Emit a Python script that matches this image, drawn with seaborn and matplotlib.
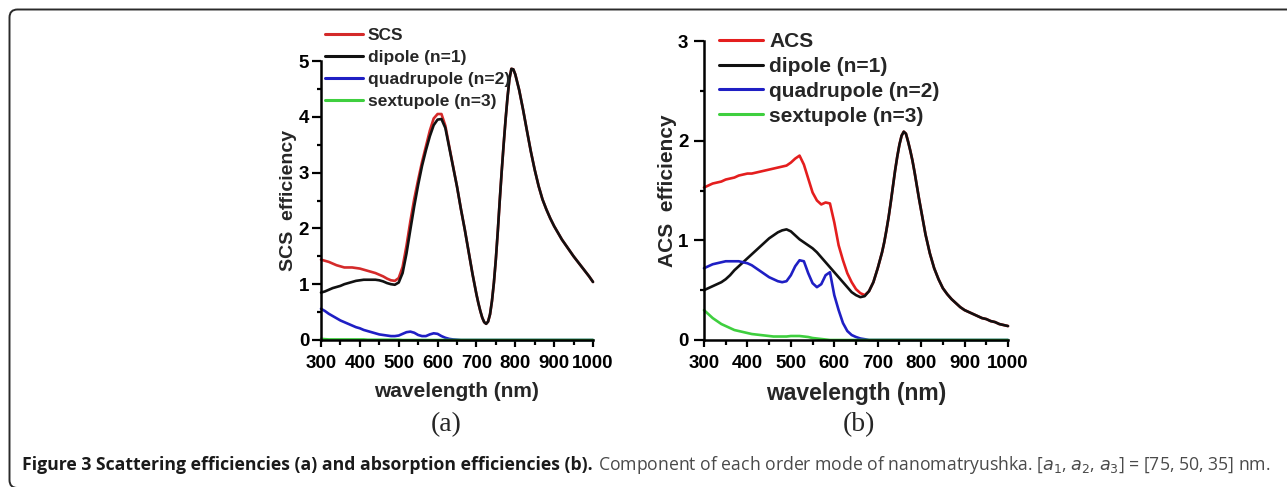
import numpy as np
import pandas as pd
import matplotlib
matplotlib.use("Agg")
import matplotlib.pyplot as plt
import seaborn as sns
from matplotlib.patches import FancyBboxPatch
from matplotlib.transforms import IdentityTransform
from matplotlib.ticker import MultipleLocator
from matplotlib.lines import Line2D

# ---------------- data ----------------
# sampling grid: 10 nm steps, 5 nm steps around the sharp 700-800 nm features
wavelength = np.concatenate([np.arange(300, 701, 10),
                             np.arange(705, 801, 5),
                             np.arange(810, 1001, 10)])

# panel (a): scattering efficiencies
scs_dipole = [0.85, 0.87, 0.90, 0.93, 0.95, 0.97, 1.00, 1.02, 1.04, 1.06,   # 300-390
              1.07, 1.08, 1.08, 1.08, 1.08, 1.07, 1.05, 1.02, 1.00, 0.99,   # 400-490
              1.03, 1.20, 1.55, 1.98, 2.40, 2.78, 3.12, 3.40, 3.65, 3.85,   # 500-590
              3.95, 3.96, 3.80, 3.45, 3.10, 2.75, 2.35, 1.98, 1.58, 1.18,   # 600-690
              0.82,                                                         # 700
              0.66, 0.52, 0.40, 0.32, 0.29, 0.33, 0.46, 0.70, 1.03, 1.45,   # 705-750
              1.95, 2.50, 3.02, 3.50, 3.95, 4.35, 4.68, 4.86, 4.85, 4.76,   # 755-800
              4.48, 4.13, 3.75, 3.38, 3.05, 2.76, 2.52, 2.34, 2.18, 2.04,   # 810-900
              1.92, 1.80, 1.70, 1.60, 1.50, 1.41, 1.32, 1.23, 1.14, 1.04]   # 910-1000
scs_total_head = [1.44, 1.42, 1.40, 1.37, 1.34, 1.32, 1.30, 1.30, 1.30, 1.29,
                  1.28, 1.26, 1.24, 1.22, 1.20, 1.17, 1.14, 1.10, 1.07, 1.06,
                  1.11, 1.31, 1.69, 2.13, 2.53, 2.87, 3.19, 3.47, 3.75, 3.97,
                  4.05, 4.05, 3.84, 3.47, 3.11, 2.75, 2.35, 1.98, 1.58, 1.18,
                  0.82]
scs_total = scs_total_head + scs_dipole[41:]   # SCS coincides with dipole above 670 nm
scs_quadrupole = [0.56, 0.52, 0.47, 0.43, 0.39, 0.35, 0.32, 0.29, 0.26, 0.23,
                  0.21, 0.18, 0.16, 0.14, 0.12, 0.10, 0.09, 0.08, 0.07, 0.07,
                  0.08, 0.11, 0.14, 0.15, 0.13, 0.09, 0.07, 0.07, 0.10, 0.12,
                  0.11, 0.07, 0.04, 0.02, 0.01, 0.005, 0.0, 0.0, 0.0, 0.0,
                  0.0] + [0.0] * 40
scs_sextupole = [0.02, 0.015, 0.01, 0.01, 0.01, 0.01, 0.01, 0.01, 0.01, 0.01,
                 0.01, 0.01, 0.005, 0.005, 0.005, 0.005, 0.005, 0.005, 0.005, 0.005,
                 0.005, 0.0, 0.0, 0.0, 0.0, 0.0, 0.0, 0.0, 0.0, 0.0,
                 0.0, 0.0, 0.0, 0.0, 0.0, 0.0, 0.0, 0.0, 0.0, 0.0,
                 0.0] + [0.0] * 40

# panel (b): absorption efficiencies
acs_dipole = [0.50, 0.52, 0.54, 0.56, 0.58, 0.61, 0.65, 0.70, 0.74, 0.78,   # 300-390
              0.82, 0.86, 0.90, 0.94, 0.98, 1.02, 1.05, 1.08, 1.10, 1.11,   # 400-490
              1.09, 1.05, 1.01, 0.98, 0.95, 0.92, 0.88, 0.83, 0.78, 0.73,   # 500-590
              0.68, 0.63, 0.58, 0.53, 0.48, 0.45, 0.43, 0.44, 0.49, 0.58,   # 600-690
              0.72,                                                         # 700
              0.80, 0.88, 0.98, 1.10, 1.23, 1.38, 1.54, 1.70, 1.84, 1.96,   # 705-750
              2.05, 2.09, 2.07, 1.99, 1.90, 1.80, 1.68, 1.55, 1.42, 1.30,   # 755-800
              1.06, 0.87, 0.72, 0.61, 0.52, 0.46, 0.41, 0.37, 0.33, 0.30,   # 810-900
              0.28, 0.26, 0.24, 0.22, 0.21, 0.19, 0.18, 0.16, 0.15, 0.14]   # 910-1000
acs_total_head = [1.53, 1.55, 1.57, 1.58, 1.59, 1.61, 1.62, 1.63, 1.65, 1.66,
                  1.67, 1.67, 1.68, 1.69, 1.70, 1.71, 1.72, 1.73, 1.74, 1.75,
                  1.78, 1.82, 1.85, 1.76, 1.62, 1.48, 1.40, 1.36, 1.38, 1.37,
                  1.18, 0.95, 0.80, 0.67, 0.58, 0.51, 0.47, 0.45, 0.49, 0.58,
                  0.72]
acs_total = acs_total_head + acs_dipole[41:]   # ACS coincides with dipole above 680 nm
acs_quadrupole = [0.72, 0.74, 0.76, 0.77, 0.78, 0.79, 0.79, 0.79, 0.79, 0.78,
                  0.77, 0.75, 0.72, 0.69, 0.66, 0.63, 0.61, 0.59, 0.58, 0.59,
                  0.65, 0.74, 0.80, 0.79, 0.67, 0.57, 0.53, 0.56, 0.65, 0.68,
                  0.45, 0.30, 0.17, 0.09, 0.05, 0.03, 0.015, 0.008, 0.0, 0.0,
                  0.0] + [0.0] * 40
acs_sextupole = [0.30, 0.26, 0.22, 0.19, 0.16, 0.14, 0.12, 0.10, 0.09, 0.08,
                 0.07, 0.06, 0.055, 0.05, 0.045, 0.04, 0.035, 0.035, 0.035, 0.035,
                 0.04, 0.04, 0.04, 0.035, 0.03, 0.02, 0.015, 0.01, 0.005, 0.0,
                 0.0, 0.0, 0.0, 0.0, 0.0, 0.0, 0.0, 0.0, 0.0, 0.0,
                 0.0] + [0.0] * 40

labels_a = ["SCS", "dipole (n=1)", "quadrupole (n=2)", "sextupole (n=3)"]
labels_b = ["ACS", "dipole (n=1)", "quadrupole (n=2)", "sextupole (n=3)"]
xticks = [300, 400, 500, 600, 700, 800, 900, 1000]
yticks_a = [0, 1, 2, 3, 4, 5]
yticks_b = [0, 1, 2, 3]

# ---------------- styling ----------------
sns.set_theme(style="white")
plt.rcParams['font.family'] = ['Liberation Sans', 'DejaVu Sans']
plt.rcParams['mathtext.fontset'] = 'dejavusans'

RED_A = "#d42a2a"
RED_B = "#e41e1e"
BLACK = "#111111"
BLUE = "#1f1fc4"
GREEN = "#3fcf3f"

W, H = 1287, 487
fig = plt.figure(figsize=(W / 100, H / 100), dpi=100)
fig.patch.set_facecolor("white")


def px_axes(l, t, r, b):
    return fig.add_axes([l / W, 1 - b / H, (r - l) / W, (b - t) / H])


ax_a = px_axes(321, 61, 593, 340)
ax_b = px_axes(704, 41, 1008, 340)


def long_df(series, labels):
    frames = []
    for vals, lab in zip(series, labels):
        frames.append(pd.DataFrame({"wavelength": wavelength,
                                    "value": vals, "series": lab}))
    return pd.concat(frames, ignore_index=True)


def draw_panel(ax, series, labels, colors, ymax, yticks, ylabel,
               leg_left, leg_top, leg_size, leg_spacing, leg_hlen, leg_pad,
               xlab_size, ylab_size, ylab_x, xlab_y, ytick_len, ytick_pad):
    df = long_df(series, labels)
    sns.lineplot(data=df, x="wavelength", y="value", hue="series",
                 hue_order=labels, palette=colors, linewidth=1.9,
                 estimator=None, sort=False, legend=False, ax=ax)
    for ln in ax.get_lines():
        ln.set_clip_on(False)
        ln.set_solid_capstyle("round")
        ln.set_solid_joinstyle("round")
    ax.set_xlim(300, 1000)
    ax.set_ylim(0, ymax)
    ax.set_xticks(xticks)
    ax.set_yticks(yticks)
    ax.xaxis.set_minor_locator(MultipleLocator(50))
    ax.yaxis.set_minor_locator(MultipleLocator(0.5))
    ax.set_xticklabels([str(t) for t in xticks], fontsize=13.5, fontweight="bold")
    ax.set_yticklabels([str(t) for t in yticks], fontsize=13.5, fontweight="bold")
    for side in ["top", "right"]:
        ax.spines[side].set_visible(False)
    for side in ["left", "bottom"]:
        ax.spines[side].set_linewidth(1.8)
        ax.spines[side].set_color("black")
    ax.tick_params(axis="x", which="major", bottom=True, direction="out",
                   length=5.0, width=1.6, pad=6, colors="black")
    ax.tick_params(axis="x", which="minor", bottom=True, direction="out",
                   length=3.5, width=1.6, colors="black")
    ax.tick_params(axis="y", which="major", left=True, direction="out",
                   length=ytick_len, width=1.6, pad=ytick_pad, colors="black")
    ax.tick_params(axis="y", which="minor", left=True, direction="out",
                   length=3.0, width=1.6, colors="black")
    ax.set_xlabel("wavelength (nm)", fontsize=xlab_size, fontweight="bold")
    ax.set_ylabel(ylabel, fontsize=ylab_size, fontweight="bold")
    ax.xaxis.set_label_coords(0.5, xlab_y)
    ax.yaxis.set_label_coords(ylab_x, 0.5)
    ax.set_facecolor("none")

    handles = [Line2D([0], [0], color=c, lw=2.2) for c in colors]
    ax.legend(handles, labels, loc="upper left",
              bbox_to_anchor=(leg_left / W, 1 - leg_top / H),
              bbox_transform=fig.transFigure, frameon=False, borderpad=0,
              borderaxespad=0, handlelength=leg_hlen, handletextpad=leg_pad,
              labelspacing=leg_spacing, prop={"weight": "bold", "size": leg_size})


draw_panel(ax_a, [scs_total, scs_dipole, scs_quadrupole, scs_sextupole],
           labels_a, [RED_A, BLACK, BLUE, GREEN], 5, yticks_a, "SCS  efficiency",
           leg_left=325, leg_top=28, leg_size=12.5, leg_spacing=0.40, leg_hlen=2.2,
           leg_pad=0.25, xlab_size=15, ylab_size=14,
           ylab_x=-0.088, xlab_y=-0.152, ytick_len=6.5, ytick_pad=2)
draw_panel(ax_b, [acs_total, acs_dipole, acs_quadrupole, acs_sextupole],
           labels_b, [RED_B, BLACK, BLUE, GREEN], 3, yticks_b, "ACS  efficiency",
           leg_left=719, leg_top=32, leg_size=15, leg_spacing=0.28, leg_hlen=2.1,
           leg_pad=0.3, xlab_size=16.5, ylab_size=15,
           ylab_x=-0.089, xlab_y=-0.142, ytick_len=7.2, ytick_pad=4)

# panel tags
fig.text(446 / W, 1 - 425 / H, "(a)", ha="center", va="center",
         family=["Liberation Serif", "DejaVu Serif"], fontsize=20)
fig.text(859 / W, 1 - 425 / H, "(b)", ha="center", va="center",
         family=["Liberation Serif", "DejaVu Serif"], fontsize=20)

# caption
cap_font = "Open Sans"
cap_y = 1 - 465 / H
t1 = fig.text(22 / W, cap_y, "Figure 3 Scattering efficiencies (a) and absorption efficiencies (b).",
              ha="left", va="center", fontsize=11, fontweight="bold",
              family=[cap_font, "DejaVu Sans"], color="#1a1a1a")
t2 = fig.text(0, cap_y,
              r"Component of each order mode of nanomatryushka. [$a_1$, $a_2$, $a_3$] = [75, 50, 35] nm.",
              ha="left", va="center", fontsize=11,
              family=[cap_font, "DejaVu Sans"], color="#4a4a4a")
fig.canvas.draw()
r = fig.canvas.get_renderer()
bb1 = t1.get_window_extent(r)
bb2 = t2.get_window_extent(r)
total = bb1.width + 5 + bb2.width
scale = (1270 - 22) / total
for t in (t1, t2):
    t.set_fontsize(11 * scale)
fig.canvas.draw()
bb1 = t1.get_window_extent(r)
t2.set_x((bb1.x1 + 5 * scale) / W)

# rounded frame around the figure (right and bottom edges run off the image)
frame = FancyBboxPatch((9.5, -1), 1400, 478 - (-1) - 0.5,
                       boxstyle="round,pad=0,rounding_size=8",
                       transform=IdentityTransform(), fill=False,
                       lw=1.4, ec="#2a2a2a")
fig.add_artist(frame)

fig.savefig("out.png", dpi=100, facecolor="white")
